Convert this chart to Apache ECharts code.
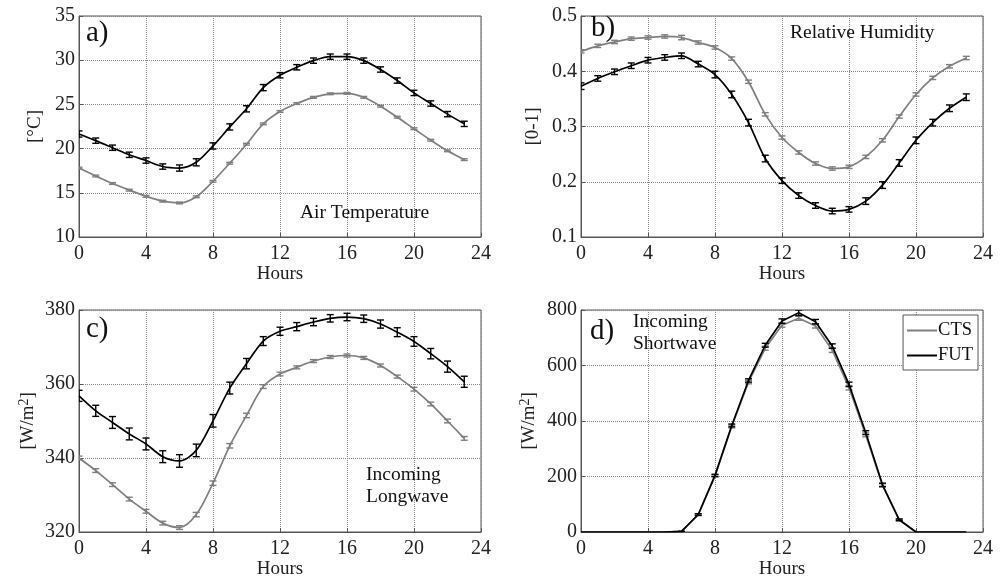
<!DOCTYPE html>
<html>
<head>
<meta charset="utf-8">
<script src="https://cdn.jsdelivr.net/npm/echarts@6/dist/echarts.min.js"></script>
<style>
  html, body { margin: 0; padding: 0; background: #fff; }
  #chartDIV { width: 1005px; height: 581px; }
</style>
</head>
<body>
<div id="chartDIV"></div>
<script>
// hours of day
var hours = [0,1,2,3,4,5,6,7,8,9,10,11,12,13,14,15,16,17,18,19,20,21,22,23];
var xTicks = [0,4,8,12,16,20,24];

// a) air temperature [°C]
var tempCTS = [17.8,16.9,16.05,15.3,14.6,14.05,13.85,14.55,16.3,18.35,20.5,22.8,24.2,25.1,25.8,26.2,26.25,25.8,24.8,23.55,22.25,20.95,19.75,18.75];
var tempCTSErr = [0.1,0.1,0.1,0.1,0.1,0.1,0.1,0.1,0.1,0.1,0.1,0.1,0.1,0.1,0.1,0.1,0.1,0.1,0.1,0.1,0.1,0.1,0.1,0.1];
var tempFUT = [21.65,20.9,20.1,19.3,18.65,17.97,17.8,18.45,20.3,22.45,24.5,26.9,28.3,29.2,29.95,30.4,30.4,29.95,28.95,27.7,26.3,25.1,23.9,22.8];
var tempFUTErr = [0.35,0.3,0.3,0.3,0.3,0.3,0.35,0.4,0.35,0.35,0.35,0.35,0.3,0.3,0.3,0.3,0.3,0.3,0.3,0.3,0.3,0.3,0.3,0.3];

// b) relative humidity [0-1]
var rhCTS = [0.436,0.446,0.453,0.459,0.461,0.463,0.461,0.452,0.443,0.423,0.381,0.322,0.280,0.253,0.233,0.224,0.227,0.245,0.275,0.318,0.358,0.388,0.409,0.424];
var rhCTSErr = [0.003,0.003,0.003,0.003,0.003,0.003,0.004,0.003,0.003,0.003,0.003,0.003,0.003,0.003,0.003,0.003,0.003,0.003,0.003,0.003,0.003,0.003,0.003,0.003];
var rhFUT = [0.373,0.387,0.399,0.410,0.420,0.425,0.428,0.413,0.394,0.358,0.307,0.242,0.202,0.175,0.157,0.147,0.150,0.165,0.194,0.234,0.275,0.307,0.333,0.353];
var rhFUTErr = [0.006,0.005,0.005,0.005,0.005,0.005,0.005,0.005,0.006,0.006,0.006,0.006,0.005,0.005,0.005,0.005,0.005,0.006,0.006,0.006,0.006,0.006,0.006,0.006];

// c) incoming longwave [W/m2]
var lwCTS = [340.0,336.6,332.8,328.9,325.6,322.4,321.2,324.7,333.2,343.3,351.5,359.3,362.7,364.5,366.2,367.3,367.7,367.05,365.0,362.0,358.6,354.6,350.0,345.3];
var lwCTSErr = [0.5,0.5,0.5,0.5,0.5,0.5,0.5,0.6,0.6,0.6,0.6,0.5,0.5,0.4,0.4,0.4,0.4,0.4,0.4,0.4,0.5,0.5,0.5,0.5];
var lwFUT = [356.8,352.75,349.6,346.5,343.8,340.35,339.2,342.05,350.05,358.9,365.5,371.6,374.25,375.5,376.75,377.75,378.1,377.65,376.2,374.0,371.5,368.2,364.7,360.6];
var lwFUTErr = [1.5,1.5,1.6,1.6,1.6,1.6,1.7,1.7,1.7,1.6,1.4,1.2,1.1,1.1,1.0,1.0,1.0,1.0,1.1,1.2,1.3,1.4,1.5,1.5];

// d) incoming shortwave [W/m2]
var swCTS = [0,0,0,0,0,0,2,62,202,380,540,662,745,770,742,655,520,350,168,43,0,0,0,0];
var swCTSErr = [0,0,0,0,0,0,0,3,4,5,6,7,7,7,7,8,8,7,6,3,0,0,0,0];
var swFUT = [0,0,0,0,0,0,2,63,204,384,546,673,760,790,758,670,532,358,170,44,0,0,0,0];
var swFUTErr = [0,0,0,0,0,0,1,3,4,5,6,7,8,10,8,8,8,7,6,3,0,0,0,0];

var GRAY = '#7f7f7f';
var BLACK = '#000000';
var FONT = '"Liberation Serif", "DejaVu Serif", serif';

var myChart = echarts.init(document.getElementById('chartDIV'));

function pairs(vals) {
    return hours.map(function (h, i) { return [h, vals[i]]; });
}
function errRows(vals, errs) {
    var out = [];
    hours.forEach(function (h, i) {
        if (errs[i] > 0) out.push([h, vals[i] - errs[i], vals[i] + errs[i]]);
    });
    return out;
}

// vertical bar with caps
function renderErr(params, api) {
    var x = api.value(0);
    var p1 = api.coord([x, api.value(1)]);
    var p2 = api.coord([x, api.value(2)]);
    var w = 3.5;
    var style = { stroke: api.visual('color'), lineWidth: 1.4 };
    return {
        type: 'group',
        children: [
            { type: 'line', shape: { x1: p1[0], y1: p1[1], x2: p2[0], y2: p2[1] }, style: style },
            { type: 'line', shape: { x1: p1[0] - w, y1: p1[1], x2: p1[0] + w, y2: p1[1] }, style: style },
            { type: 'line', shape: { x1: p2[0] - w, y1: p2[1], x2: p2[0] + w, y2: p2[1] }, style: style }
        ]
    };
}

var grids = [
    { left: 79, top: 16, width: 402, height: 221 },
    { left: 581, top: 16, width: 402, height: 221 },
    { left: 79, top: 310, width: 402, height: 222 },
    { left: 581, top: 310, width: 402, height: 222 }
];
grids.forEach(function (g) {
    g.show = true;
    g.borderColor = '#555';
    g.borderWidth = 1;
    g.backgroundColor = '#fff';
});

var yRanges = [
    { min: 10, max: 35, interval: 5, name: '[°C]', gap: 34 },
    { min: 0.1, max: 0.5, interval: 0.1, name: '[0-1]', gap: 38 },
    { min: 320, max: 380, interval: 20, name: '[W/m{sup|2}]', gap: 40 },
    { min: 0, max: 800, interval: 200, name: '[W/m{sup|2}]', gap: 41 }
];

var xAxes = [], yAxes = [], series = [];
var panels = [
    [tempCTS, tempCTSErr, tempFUT, tempFUTErr],
    [rhCTS, rhCTSErr, rhFUT, rhFUTErr],
    [lwCTS, lwCTSErr, lwFUT, lwFUTErr],
    [swCTS, swCTSErr, swFUT, swFUTErr]
];

panels.forEach(function (p, i) {
    xAxes.push({
        type: 'value', gridIndex: i, min: 0, max: 24, interval: 4,
        name: 'Hours', nameLocation: 'middle', nameGap: 28,
        nameTextStyle: { fontFamily: FONT, fontSize: 19, color: '#222' },
        axisLine: { show: true, lineStyle: { color: '#555', width: 1 } },
        axisTick: { show: true, inside: true, length: 4, lineStyle: { color: '#555' } },
        axisLabel: { fontFamily: FONT, fontSize: 20, color: '#222', margin: 7 },
        splitLine: { show: true, lineStyle: { type: 'dotted', color: '#888', width: 1 } }
    });
    var yr = yRanges[i];
    yAxes.push({
        type: 'value', gridIndex: i, min: yr.min, max: yr.max, interval: yr.interval,
        name: yr.name, nameLocation: 'middle', nameGap: yr.gap,
        nameTextStyle: {
            fontFamily: FONT, fontSize: 19, color: '#222',
            rich: { sup: { fontFamily: FONT, fontSize: 14, color: '#222', verticalAlign: 'top', padding: [0, 0, 8, 0] } }
        },
        axisLine: { show: true, lineStyle: { color: '#555', width: 1 } },
        axisTick: { show: true, inside: true, length: 4, lineStyle: { color: '#555' } },
        axisLabel: { fontFamily: FONT, fontSize: 20, color: '#222', margin: 4 },
        splitLine: { show: true, lineStyle: { type: 'dotted', color: '#888', width: 1 } }
    });
    var smooth = i < 3 ? 0.3 : false;
    series.push(
        { name: 'CTS', type: 'line', xAxisIndex: i, yAxisIndex: i, data: pairs(p[0]),
          symbol: 'none', smooth: smooth, lineStyle: { color: GRAY, width: 1.7 }, itemStyle: { color: GRAY }, z: 2 },
        { name: 'CTS err', type: 'custom', xAxisIndex: i, yAxisIndex: i, data: errRows(p[0], p[1]),
          renderItem: renderErr, itemStyle: { color: GRAY }, encode: { x: 0, y: [1, 2] }, clip: true, z: 3 },
        { name: 'FUT', type: 'line', xAxisIndex: i, yAxisIndex: i, data: pairs(p[2]),
          symbol: 'none', smooth: smooth, lineStyle: { color: BLACK, width: 1.7 }, itemStyle: { color: BLACK }, z: 4 },
        { name: 'FUT err', type: 'custom', xAxisIndex: i, yAxisIndex: i, data: errRows(p[2], p[3]),
          renderItem: renderErr, itemStyle: { color: BLACK }, encode: { x: 0, y: [1, 2] }, clip: true, z: 5 }
    );
});

function label(txt, x, y, size) {
    return { type: 'text', left: x, top: y, z: 100,
             style: { text: txt, fontFamily: FONT, fontSize: size, fill: '#111', lineHeight: 22 } };
}

var option = {
    animation: false,
    backgroundColor: '#fff',
    grid: grids,
    xAxis: xAxes,
    yAxis: yAxes,
    legend: {
        data: ['CTS', 'FUT'],
        orient: 'vertical', right: 27, top: 315,
        icon: 'rect', itemWidth: 30, itemHeight: 2, itemGap: 6,
        padding: [6, 5, 5, 4],
        backgroundColor: '#fff', borderColor: '#555', borderWidth: 1,
        textStyle: { fontFamily: FONT, fontSize: 18.5, color: '#111', padding: [0, 0, 0, -4] }
    },
    graphic: [
        label('a)', 86, 19, 29),
        label('b)', 591, 14, 29),
        label('c)', 86, 315, 29),
        label('d)', 590, 317, 29),
        label('Air Temperature', 300, 202, 19.5),
        label('Relative Humidity', 790, 22, 19.5),
        label('Incoming\nLongwave', 366, 464, 19.5),
        label('Incoming\nShortwave', 633, 311, 19.5)
    ],
    series: series
};

myChart.setOption(option);
</script>
</body>
</html>
